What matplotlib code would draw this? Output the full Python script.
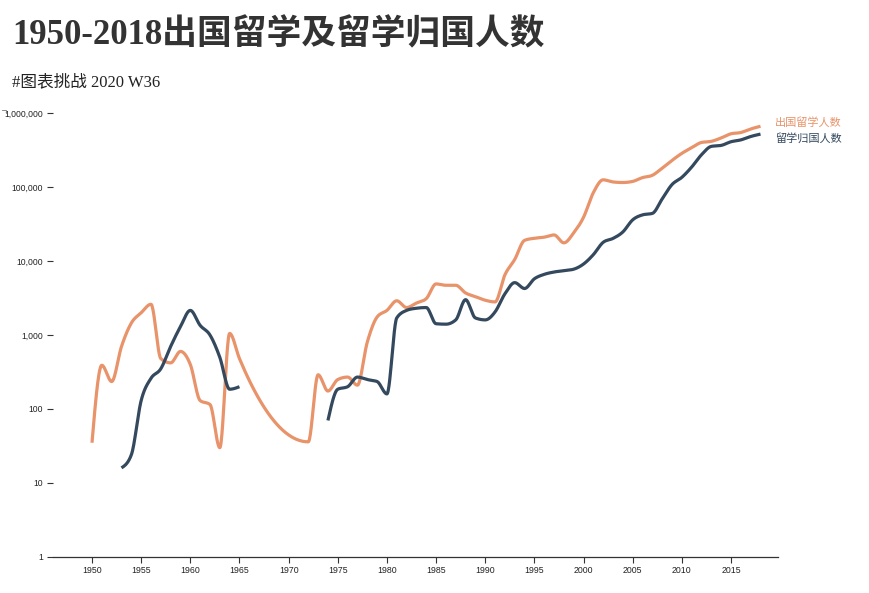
import numpy as np
import matplotlib
matplotlib.use("Agg")
import matplotlib.pyplot as plt
from matplotlib import font_manager as fm
from matplotlib.lines import Line2D
from matplotlib.ticker import FixedLocator, FuncFormatter, NullLocator

# ---------------- data ----------------
years = list(range(1950, 2019))
outbound = [35, 390, 235, 700, 1450, 2000, 2600, 480, 420, 600,
            400, 130, 115, 30, 1050, 480,
            None, None, None, None, None, None,
            36, 290, 175, 250, 270, 210, 800, 1750,
            2150, 2900, 2350, 2700, 3100, 4900, 4700, 4700, 3700, 3300,
            2950, 2800, 6500, 10500, 19000, 20300, 21000, 22500, 17600, 24000,
            39000, 84000, 125000, 117000, 115000, 119000, 134000, 144000, 180000, 229000,
            285000, 340000, 400000, 414000, 460000, 524000, 545000, 608000, 662000]
returned = [None, None, None, 16, 24, 130, 260, 350, 700, 1300,
            2150, 1350, 1000, 500, 185, 200,
            None, None, None, None, None, None, None, None,
            70, 185, 200, 270, 250, 235,
            160, 1700, 2150, 2300, 2350, 1420, 1400, 1600, 3000, 1700,
            1600, 2050, 3600, 5100, 4250, 5750, 6600, 7100, 7400, 7750,
            9100, 12200, 17900, 20200, 24700, 36000, 42000, 44000, 69000, 108000,
            135000, 186000, 273000, 354000, 365000, 409000, 433000, 481000, 519000]
series_names = ["出国留学人数", "留学归国人数"]
series_colors = ["#E8936A", "#34495E"]
x_ticks = list(range(1950, 2016, 5))
y_ticks = [1, 10, 100, 1000, 10000, 100000, 1000000]
title = "1950-2018出国留学及留学归国人数"
subtitle = "#图表挑战 2020 W36"


def has_font(name):
    try:
        fm.findfont(fm.FontProperties(family=name), fallback_to_default=False)
        return True
    except Exception:
        return False


tick_font = "Liberation Sans Narrow" if has_font("Liberation Sans Narrow") else "Liberation Sans"


def monotone_x(xs, ys, n=24):
    """d3.curveMonotoneX equivalent (in log-value space)."""
    xs = np.asarray(xs, float)
    ys = np.asarray(ys, float)
    m = len(xs)
    if m < 3:
        return xs, ys
    h = np.diff(xs)
    s = np.diff(ys) / h
    t = np.zeros(m)
    for i in range(1, m - 1):
        p = (s[i - 1] * h[i] + s[i] * h[i - 1]) / (h[i - 1] + h[i])
        t[i] = (np.sign(s[i - 1]) + np.sign(s[i])) * min(abs(s[i - 1]), abs(s[i]), 0.5 * abs(p))
    t[0] = (3 * s[0] - t[1]) / 2
    t[-1] = (3 * s[-1] - t[-2]) / 2
    ox, oy = [], []
    u = np.linspace(0, 1, n, endpoint=False)
    h00 = 2 * u**3 - 3 * u**2 + 1
    h10 = u**3 - 2 * u**2 + u
    h01 = -2 * u**3 + 3 * u**2
    h11 = u**3 - u**2
    for i in range(m - 1):
        ox.append(xs[i] + u * h[i])
        oy.append(h00 * ys[i] + h10 * h[i] * t[i] + h01 * ys[i + 1] + h11 * h[i] * t[i + 1])
    ox.append([xs[-1]])
    oy.append([ys[-1]])
    return np.concatenate(ox), np.concatenate(oy)


def segments(xs, vals, connect_gaps):
    segs, cur = [], []
    for x, v in zip(xs, vals):
        if v is None:
            if not connect_gaps and cur:
                segs.append(cur)
                cur = []
            continue
        cur.append((x, v))
    if cur:
        segs.append(cur)
    return segs


W, H = 870, 593
fig = plt.figure(figsize=(W / 100, H / 100), dpi=100)
fig.patch.set_facecolor("white")

ax_l, ax_r, ax_t, ax_b = 53, 778, 113, 557
ax = fig.add_axes([ax_l / W, 1 - ax_b / H, (ax_r - ax_l) / W, (ax_b - ax_t) / H])
ax.set_yscale("log")
ax.set_ylim(1, 1000000)
px_per_year = (731 - 92) / 65
ax.set_xlim(1950 - (92 - ax_l) / px_per_year, 1950 + (ax_r - 92) / px_per_year)

for vals, color, connect in [(outbound, series_colors[0], True),
                             (returned, series_colors[1], False)]:
    for seg in segments(years, vals, connect):
        xs = [p[0] for p in seg]
        ly = np.log10([p[1] for p in seg])
        cx, cy = monotone_x(xs, ly)
        ax.plot(cx, 10 ** cy, color=color, lw=2.3, solid_capstyle="butt",
                solid_joinstyle="round", clip_on=False)

for sp in ["top", "right", "left"]:
    ax.spines[sp].set_visible(False)
ax.spines["bottom"].set_color("#333333")
ax.spines["bottom"].set_linewidth(0.9)

ax.xaxis.set_major_locator(FixedLocator(x_ticks))
ax.xaxis.set_minor_locator(NullLocator())
ax.yaxis.set_major_locator(FixedLocator(y_ticks))
ax.yaxis.set_minor_locator(NullLocator())
ax.yaxis.set_major_formatter(FuncFormatter(lambda v, p: f"{int(round(v)):,}"))
ax.tick_params(axis="x", length=4.5, width=0.8, color="#333333", pad=2,
               labelsize=6.3, labelcolor="#222222")
ax.tick_params(axis="y", length=4.5, width=0.8, color="#333333", pad=2.5,
               labelsize=6.2, labelcolor="#222222")
for lab in ax.get_xticklabels():
    lab.set_fontfamily(tick_font)
for lab in ax.get_yticklabels():
    lab.set_fontfamily("Liberation Sans")

# small leftover axis-domain stub at the top-left corner
fig.add_artist(Line2D([2 / W, 6 / W, 6 / W], [1 - 110 / H, 1 - 110 / H, 1 - 113 / H],
                      transform=fig.transFigure, color="#777777", lw=0.6))

# titles
fig.text(12 / W, 1 - 44 / H, title, fontsize=25, fontweight="bold", color="#333333",
         family=["Liberation Serif", "Noto Sans CJK SC"], ha="left", va="baseline")
fig.text(12 / W, 1 - 86 / H, subtitle, fontsize=12, color="#222222",
         family=["Liberation Serif", "Noto Sans CJK SC"], ha="left", va="baseline")

# end labels
fig.text(775 / W, 1 - 122 / H, series_names[0], fontsize=8, color=series_colors[0],
         family=["Noto Sans CJK SC", "DejaVu Sans"], ha="left", va="center")
fig.text(775 / W, 1 - 138 / H, series_names[1], fontsize=8, color=series_colors[1],
         family=["Noto Sans CJK SC", "DejaVu Sans"], ha="left", va="center")

fig.savefig("out.png", dpi=100, facecolor="white")
